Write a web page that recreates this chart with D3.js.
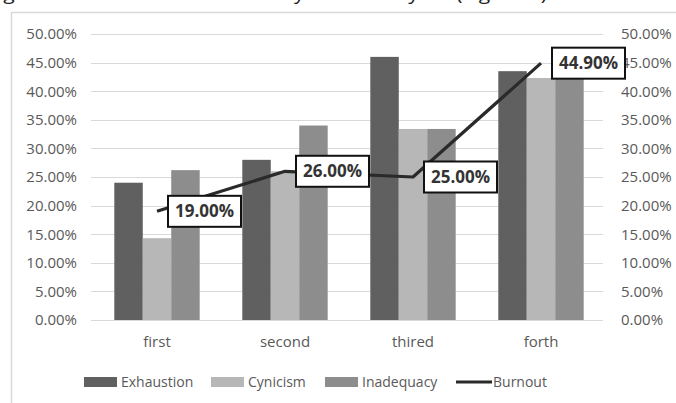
<!DOCTYPE html>
<html>
<head>
<meta charset="utf-8">
<script src="https://cdn.jsdelivr.net/npm/d3@7"></script>
<style>
  body { margin: 0; background: white; }
  svg { display: block; font-family: "Open Sans", "Noto Sans", sans-serif; }
</style>
</head>
<body>
<div id="chart"></div>
<script>
const categories = ["first", "second", "thired", "forth"];
const seriesNames = ["Exhaustion", "Cynicism", "Inadequacy"];
const exhaustion = [0.24, 0.28, 0.46, 0.435];
const cynicism = [0.143, 0.26, 0.334, 0.423];
const inadequacy = [0.262, 0.34, 0.334, 0.423];
const burnout = [0.19, 0.26, 0.25, 0.449];
const yTicks = [0, 0.05, 0.10, 0.15, 0.20, 0.25, 0.30, 0.35, 0.40, 0.45, 0.50];

const colors = ["#606060", "#b7b7b7", "#8d8d8d"];

const width = 676;
const height = 403;
const margin = { top: 34, right: 71, bottom: 83, left: 93 };

const svg = d3.select("#chart")
    .append("svg")
    .attr("width", width)
    .attr("height", height);

// caption above the chart box, cut off by the top edge as in the source
svg.append("text")
    .attr("x", -13)
    .attr("y", 0)
    .attr("font-size", 19)
    .attr("fill", "#222")
    .attr("textLength", 560)
    .attr("lengthAdjust", "spacingAndGlyphs")
    .text("Figure 3: Burnout dimensions by academic year (Figure 3)");

// chart frame
svg.append("rect")
    .attr("x", 11.5)
    .attr("y", 12.5)
    .attr("width", 700)
    .attr("height", 400)
    .attr("fill", "none")
    .attr("stroke", "#d9d9d9")
    .attr("stroke-width", 1.5);

const x = d3.scaleBand()
    .domain(categories)
    .range([margin.left, width - margin.right])
    .paddingInner(0.333)
    .paddingOuter(0.1665);

const xs = d3.scaleBand()
    .domain(seriesNames)
    .range([0, x.bandwidth()]);

const y = d3.scaleLinear()
    .domain([0, 0.5])
    .range([height - margin.bottom, margin.top]);

const fmt = d3.format(".2%");

// gridlines
svg.append("g")
    .selectAll("line")
    .data(yTicks)
    .enter()
    .append("line")
    .attr("x1", margin.left - 2)
    .attr("x2", width - margin.right - 2)
    .attr("y1", d => Math.round(y(d)) + 0.5)
    .attr("y2", d => Math.round(y(d)) + 0.5)
    .attr("stroke", "#d9d9d9")
    .attr("stroke-width", 1);

// left axis
const yLeft = svg.append("g")
    .attr("transform", `translate(${margin.left - 16},0)`)
    .call(d3.axisLeft(y).tickValues(yTicks).tickFormat(fmt).tickSize(0).tickPadding(0));
yLeft.select(".domain").remove();
yLeft.selectAll("text")
    .attr("font-size", 15)
    .attr("font-family", "'Open Sans', sans-serif")
    .attr("fill", "#595959");

// right axis
const yRight = svg.append("g")
    .attr("transform", `translate(${width - margin.right + 16},0)`)
    .call(d3.axisRight(y).tickValues(yTicks).tickFormat(fmt).tickSize(0).tickPadding(0));
yRight.select(".domain").remove();
yRight.selectAll("text")
    .attr("font-size", 15)
    .attr("font-family", "'Open Sans', sans-serif")
    .attr("fill", "#595959");

// bottom axis labels
const xAxis = svg.append("g")
    .attr("transform", `translate(0,${height - margin.bottom})`)
    .call(d3.axisBottom(x).tickSize(0).tickPadding(16));
xAxis.select(".domain").remove();
xAxis.selectAll("text")
    .attr("font-size", 15)
    .attr("font-family", "'Open Sans', sans-serif")
    .attr("fill", "#595959");

// bars
const rows = categories.map((c, i) => ({
    cat: c,
    values: [exhaustion[i], cynicism[i], inadequacy[i]]
}));

svg.append("g")
    .selectAll("g")
    .data(rows)
    .enter()
    .append("g")
    .attr("transform", d => `translate(${x(d.cat)},0)`)
    .selectAll("rect")
    .data(d => d.values.map((v, j) => ({ name: seriesNames[j], v: v, j: j })))
    .enter()
    .append("rect")
    .attr("x", d => xs(d.name))
    .attr("y", d => y(d.v))
    .attr("width", xs.bandwidth())
    .attr("height", d => y(0) - y(d.v))
    .attr("fill", d => colors[d.j]);

// burnout line
const line = d3.line()
    .x((d, i) => x(categories[i]) + x.bandwidth() / 2)
    .y(d => y(d));

svg.append("path")
    .datum(burnout)
    .attr("d", line)
    .attr("fill", "none")
    .attr("stroke", "#2a2a2a")
    .attr("stroke-width", 3.2)
    .attr("stroke-linejoin", "round");

// data labels
const labels = svg.append("g")
    .selectAll("g")
    .data(burnout)
    .enter()
    .append("g")
    .attr("transform", (d, i) =>
        `translate(${x(categories[i]) + x.bandwidth() / 2 + 11},${y(d)})`);

labels.append("rect")
    .attr("x", 0)
    .attr("y", -15.5)
    .attr("width", 73)
    .attr("height", 31)
    .attr("fill", "white")
    .attr("stroke", "#111")
    .attr("stroke-width", 2);

labels.append("text")
    .attr("x", 36.5)
    .attr("y", 0)
    .attr("dy", "0.36em")
    .attr("text-anchor", "middle")
    .attr("font-size", 17)
    .attr("font-weight", "bold")
    .attr("fill", "#333")
    .text(d => fmt(d));

// legend
const legendItems = [
    { name: "Exhaustion", x: 84, type: "rect", color: colors[0] },
    { name: "Cynicism", x: 211, type: "rect", color: colors[1] },
    { name: "Inadequacy", x: 325, type: "rect", color: colors[2] },
    { name: "Burnout", x: 456, type: "line", color: "#2a2a2a" }
];

const legend = svg.append("g")
    .selectAll("g")
    .data(legendItems)
    .enter()
    .append("g")
    .attr("transform", d => `translate(${d.x},382)`);

legend.filter(d => d.type === "rect")
    .append("rect")
    .attr("x", 0)
    .attr("y", -5)
    .attr("width", 33)
    .attr("height", 10)
    .attr("fill", d => d.color);

legend.filter(d => d.type === "line")
    .append("line")
    .attr("x1", 0)
    .attr("x2", 36)
    .attr("y1", 0)
    .attr("y2", 0)
    .attr("stroke", d => d.color)
    .attr("stroke-width", 3);

legend.append("text")
    .attr("x", 37)
    .attr("y", 0)
    .attr("dy", "0.35em")
    .attr("font-size", 14)
    .attr("fill", "#595959")
    .text(d => d.name);
</script>
</body>
</html>
